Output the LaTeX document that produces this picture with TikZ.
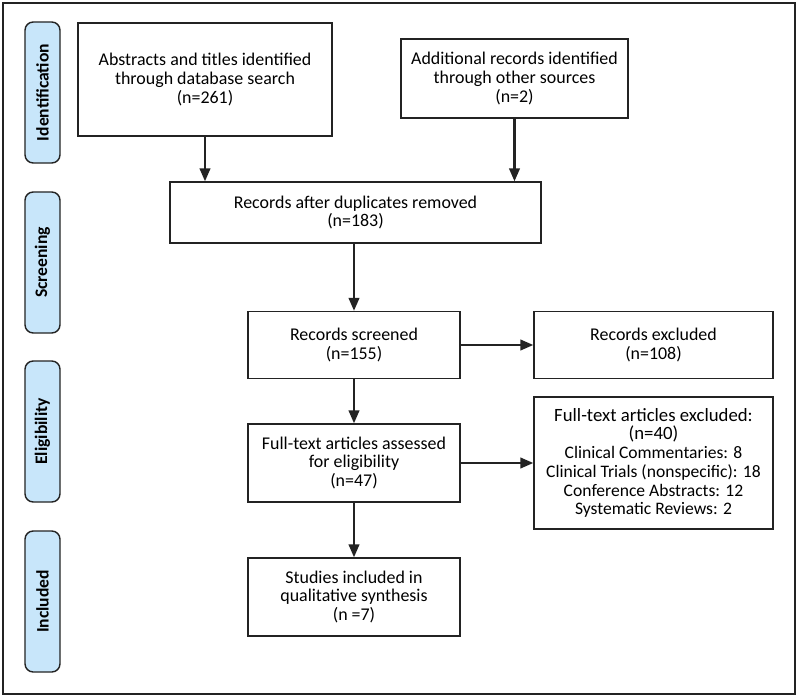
\documentclass[tikz,border=0pt]{standalone}
\usepackage{fontspec}
\setmainfont{Carlito}
\usetikzlibrary{arrows.meta}

\definecolor{stageblue}{RGB}{200,230,250}
\definecolor{darkline}{RGB}{35,35,35}

\tikzset{
  box/.style={draw=darkline, line width=1.2pt, fill=white, align=center, inner sep=0pt,
    font=\fontsize{15.3}{16}\selectfont},
  stage/.style={draw=darkline, line width=1.2pt, fill=stageblue, rounded corners=7pt,
    rotate=90, minimum width=4.23cm, minimum height=1.05cm, inner sep=0pt,
    font=\bfseries\fontsize{15}{15}\selectfont},
  flow/.style={draw=darkline, line width=1.9pt, -{Triangle[width=9pt,length=11pt]}}
}

\begin{document}
\begin{tikzpicture}[x=0.03cm, y=-0.03cm]

  \useasboundingbox (0, 0) rectangle (798, 697);
  \draw[darkline, line width=1.6pt] (3, 3) rectangle (795, 694);

  \node[stage] (ident) at (42.5, 92.5) {Identification};
  \node[stage] (screen) at (42.5, 262.5) {Screening};
  \node[stage] (elig) at (42.5, 431.5) {Eligibility};
  \node[stage] (incl) at (42.5, 601.5) {Included};


  \node[box, minimum width=7.62cm, minimum height=3.39cm] (database) at (205, 79.5)
    {Abstracts and titles identified\\through database search\\(n=261)};
  \node[box, minimum width=6.81cm, minimum height=2.37cm] (other) at (514.5, 78.5)
    {Additional records identified\\through other sources\\(n=2)};
  \node[box, minimum width=11.13cm, minimum height=1.83cm] (dupl) at (355.5, 212.5)
    {Records after duplicates removed\\(n=183)};
  \node[box, minimum width=6.36cm, minimum height=2.01cm] (screened) at (354, 345)
    {Records screened\\(n=155)};
  \node[box, minimum width=7.17cm, minimum height=2.01cm] (excluded) at (653.5, 345)
    {Records excluded\\(n=108)};
  \node[box, minimum width=6.36cm, minimum height=2.34cm] (fulltext) at (354, 463)
    {Full-text articles assessed\\for eligibility\\(n=47)};
  \node[box, minimum width=7.17cm, minimum height=3.96cm] (ftexcluded) at (653.5, 463)
    {{\fontsize{16}{16}\selectfont Full-text articles excluded:}\\
     {\fontsize{16}{16}\selectfont (n=40)}\\
     {\fontsize{15}{16}\selectfont Clinical Commentaries: 8}\\
     {\fontsize{15}{16}\selectfont Clinical Trials (nonspecific): 18}\\
     {\fontsize{15}{16}\selectfont Conference Abstracts: 12}\\
     {\fontsize{15}{16}\selectfont Systematic Reviews: 2}};
  \node[box, minimum width=6.36cm, minimum height=2.34cm] (synth) at (354, 597)
    {Studies included in\\qualitative synthesis\\(n =7)};


  \draw[flow] (database.south) -- (database.south |- dupl.north);
  \draw[flow] (other.south) -- (other.south |- dupl.north);
  \draw[flow] (screened.north |- dupl.south) -- (screened.north);
  \draw[flow] (screened.east) -- (excluded.west);
  \draw[flow] (screened.south) -- (fulltext.north);
  \draw[flow] (fulltext.east) -- (ftexcluded.west);
  \draw[flow] (fulltext.south) -- (synth.north);
  \end{tikzpicture}
\end{document}
